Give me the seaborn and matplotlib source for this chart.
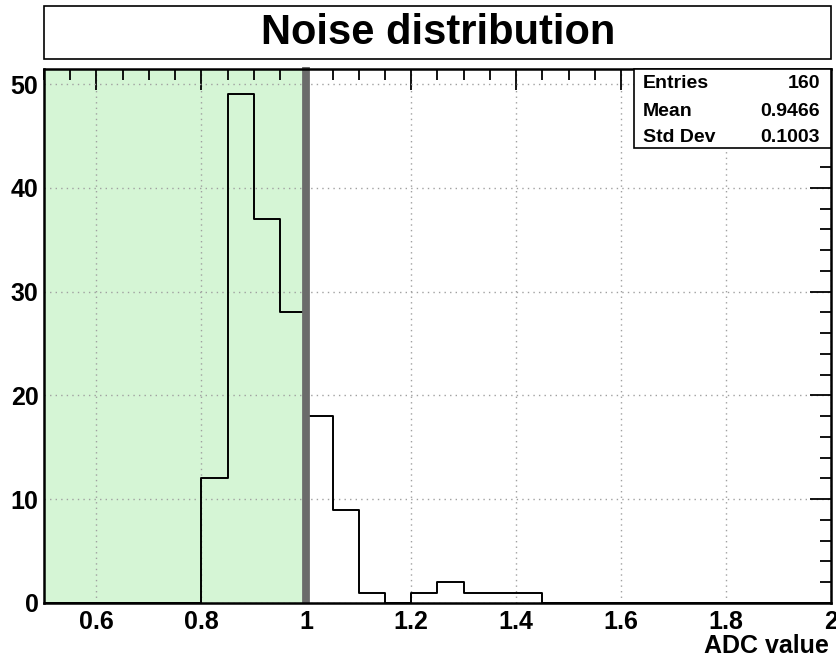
import numpy as np
import pandas as pd
import matplotlib
matplotlib.use("Agg")
import matplotlib.pyplot as plt
from matplotlib.ticker import MultipleLocator, FuncFormatter
from matplotlib.patches import Rectangle
import seaborn as sns

# Histogram contents: bin edges every 0.05 from 0.5 to 2.0
bin_width = 0.05
x_min, x_max = 0.5, 2.0
bin_lows = [0.80, 0.85, 0.90, 0.95, 1.00, 1.05, 1.10, 1.15, 1.20, 1.25, 1.30, 1.35, 1.40]
bin_counts = [12, 49, 37, 28, 18, 9, 1, 0, 1, 2, 1, 1, 1]
threshold = 1.0
title = "Noise distribution"
x_label = "ADC value"

sns.set_style("white")
plt.rcParams["font.family"] = ["Liberation Sans", "DejaVu Sans"]
plt.rcParams["font.weight"] = "bold"
plt.rcParams["text.color"] = "black"
plt.rcParams["xtick.color"] = "black"
plt.rcParams["ytick.color"] = "black"
plt.rcParams["xtick.labelcolor"] = "black"
plt.rcParams["ytick.labelcolor"] = "black"

edges = [float(e) for e in np.round(np.arange(x_min, x_max + bin_width / 2, bin_width), 4)]
centers = [lo + bin_width / 2 for lo in bin_lows]
df = pd.DataFrame({"adc": centers, "n": bin_counts})

entries = int(sum(bin_counts))
mean = float(np.average(df["adc"], weights=df["n"]))
std = float(np.sqrt(np.average((df["adc"] - mean) ** 2, weights=df["n"])))

W, H = 837, 661
fig = plt.figure(figsize=(W / 100, H / 100), dpi=100)
ax_l, ax_r, ax_t, ax_b = 44, 831, 69, 603
ax = fig.add_axes([ax_l / W, 1 - ax_b / H, (ax_r - ax_l) / W, (ax_b - ax_t) / H])

# accepted region shading
ax.axvspan(x_min, threshold, color="#d5f5d5", zorder=0, lw=0)

sns.histplot(data=df, x="adc", weights="n", bins=edges, element="step",
             fill=False, color="black", linewidth=1.4, ax=ax, zorder=3)

cut = ax.axvline(threshold, ymin=0.0, ymax=1.004, color="#6b6b6b", linewidth=5.6,
                 zorder=4, clip_on=False)
cut.set_solid_capstyle("butt")

ax.set_xlim(x_min, x_max)
ax.set_ylim(0, max(bin_counts) * 1.05)
ax.set_ylabel("")
ax.set_xlabel("")

ax.xaxis.set_major_locator(MultipleLocator(0.2))
ax.xaxis.set_minor_locator(MultipleLocator(0.05))
ax.yaxis.set_major_locator(MultipleLocator(10))
ax.yaxis.set_minor_locator(MultipleLocator(2))
ax.xaxis.set_major_formatter(FuncFormatter(lambda v, p: f"{v:g}"))

ax.tick_params(which="both", direction="in", top=True, right=True,
               color="black", width=1.3)
ax.tick_params(which="major", length=15, labelsize=18, pad=5)
ax.tick_params(which="minor", length=8)
ax.tick_params(axis="y", pad=4)
for lab in ax.get_xticklabels() + ax.get_yticklabels():
    lab.set_fontweight("bold")

ax.grid(True, which="major", color="#a0a0a0", linestyle=(0, (1, 3)), linewidth=1.0)
for gl in ax.get_xgridlines() + ax.get_ygridlines():
    gl.set_zorder(1)

for s in ax.spines.values():
    s.set_visible(True)
    s.set_color("black")
    s.set_linewidth(1.8)
    s.set_zorder(5)

fig.text(829 / W, 1 - 653 / H, x_label, ha="right", va="baseline",
         fontsize=18, fontweight="bold")

# Title box
fig.patches.append(Rectangle((44 / W, 1 - 59 / H), 787 / W, 53 / H,
                             transform=fig.transFigure, facecolor="white",
                             edgecolor="black", linewidth=1.2))
fig.text(438 / W, 1 - 33 / H, title, ha="center", va="center",
         fontsize=30, fontweight="bold")

# Statistics box
bx0, bx1, by0, by1 = 634, 831, 69, 148
fig.patches.append(Rectangle((bx0 / W, 1 - by1 / H), (bx1 - bx0) / W,
                             (by1 - by0) / H, transform=fig.transFigure,
                             facecolor="white", edgecolor="black", linewidth=1.2,
                             zorder=10))
rows = [("Entries", f"{entries}"), ("Mean", f"{mean:.4f}"), ("Std Dev", f"{std:.4f}")]
for i, (k, v) in enumerate(rows):
    yy = 1 - (84 + i * 27) / H
    fig.text(643 / W, yy, k, ha="left", va="center", fontsize=14,
             fontweight="bold", zorder=11)
    fig.text(820 / W, yy, v, ha="right", va="center", fontsize=14,
             fontweight="bold", zorder=11)

fig.savefig("out.png", dpi=100)
